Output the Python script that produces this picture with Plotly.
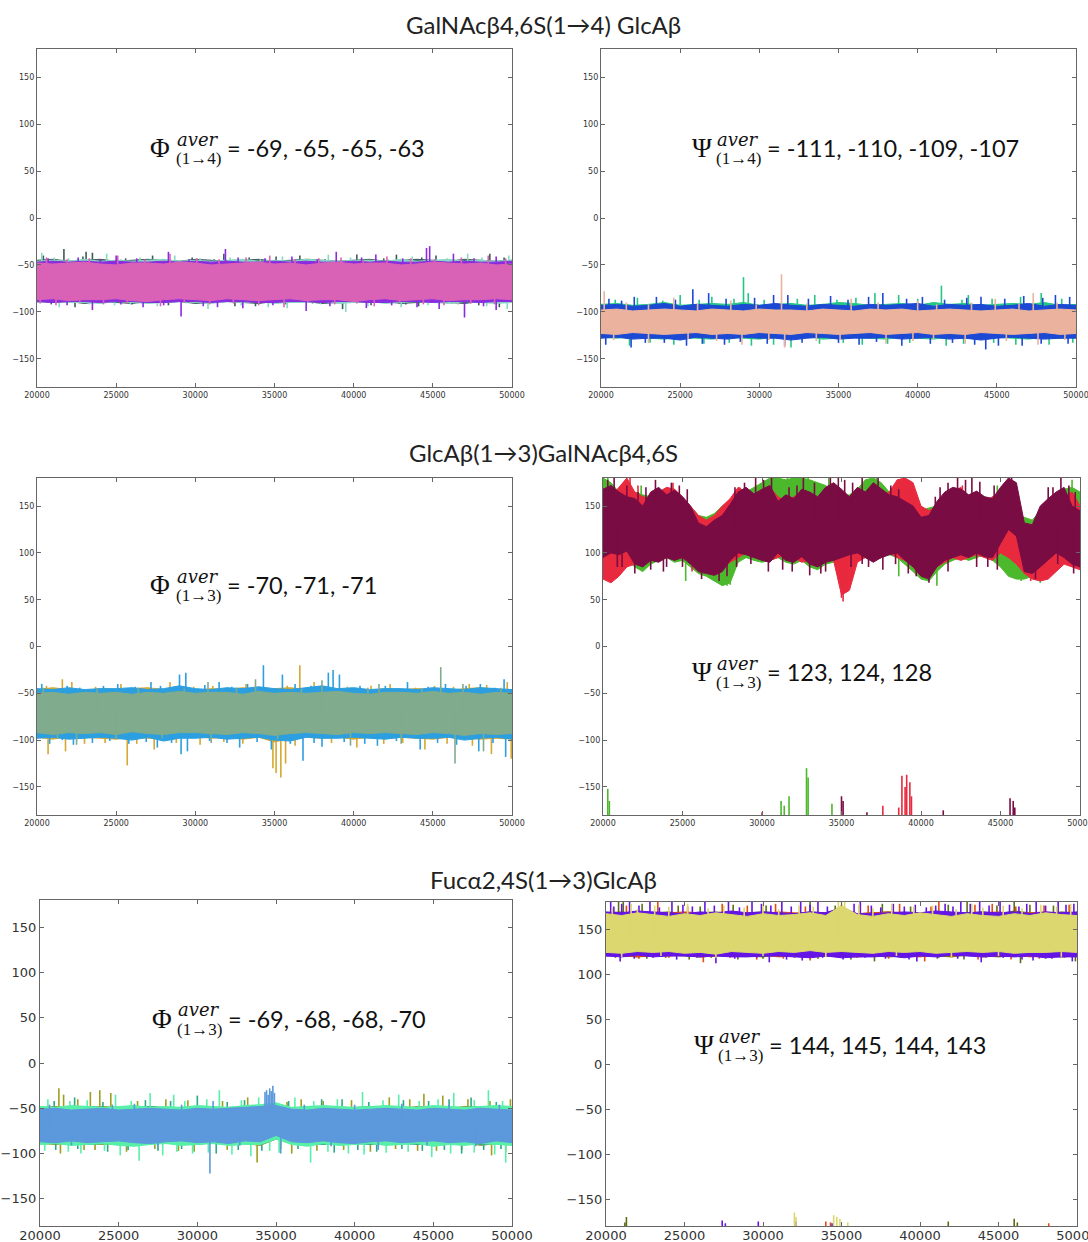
import plotly.graph_objects as go

W, H = 1088, 1242

# ---------------- data ----------------
T = [20000, 21000, 22000, 23000, 24000, 25000, 26000, 27000, 28000, 29000,
     30000, 31000, 32000, 33000, 34000, 35000, 36000, 37000, 38000, 39000,
     40000, 41000, 42000, 43000, 44000, 45000, 46000, 47000, 48000, 49000, 50000]
T4 = [20000, 20500, 21000, 21500, 22000, 22500, 23000, 23500, 24000, 24500,
      25000, 25500, 26000, 26500, 27000, 27500, 28000, 28500, 29000, 29500,
      30000, 30500, 31000, 31500, 32000, 32500, 33000, 33500, 34000, 34500,
      35000, 35500, 36000, 36500, 37000, 37500, 38000, 38500, 39000, 39500,
      40000, 40500, 41000, 41500, 42000, 42500, 43000, 43500, 44000, 44500,
      45000, 45500, 46000, 46500, 47000, 47500, 48000, 48500, 49000, 49500, 50000]
XTICKS = [20000, 25000, 30000, 35000, 40000, 45000, 50000]
YTICKS = [-150, -100, -50, 0, 50, 100, 150]

TITLES = ["GalNAcβ4,6S(1→4) GlcAβ", "GlcAβ(1→3)GalNAcβ4,6S", "Fucα2,4S(1→3)GlcAβ"]

P1_AVER = [-69, -65, -65, -63]
P2_AVER = [-111, -110, -109, -107]
P3_AVER = [-70, -71, -71]
P4_AVER = [123, 124, 128]
P5_AVER = [-69, -68, -68, -70]
P6_AVER = [144, 145, 144, 143]

# ---- Panel 1: Phi(1->4) ----
P1_DARK_HI = [-45,-44,-46,-45,-44,-46,-45,-44,-45,-46,-44,-45,-46,-45,-44,-46,-45,-44,-45,-46,-45,-44,-46,-45,-44,-45,-46,-44,-45,-46,-45]
P1_DARK_LO = [-89,-90,-89,-91,-89,-90,-91,-89,-90,-89,-91,-90,-89,-90,-91,-89,-90,-89,-91,-90,-89,-90,-89,-91,-90,-89,-90,-91,-89,-90,-89]
P1_TEAL_HI = [-46,-45,-46,-44,-46,-45,-46,-45,-44,-46,-45,-46,-45,-44,-46,-45,-46,-44,-45,-46,-45,-45,-46,-44,-46,-45,-44,-46,-45,-46,-45]
P1_TEAL_LO = [-90,-89,-90,-90,-91,-89,-90,-91,-90,-89,-90,-91,-89,-90,-89,-91,-90,-90,-89,-91,-90,-89,-91,-90,-89,-90,-91,-89,-90,-91,-90]
P1_PURP_HI = [-47,-46,-47,-46,-47,-46,-47,-47,-46,-47,-46,-47,-46,-47,-47,-46,-47,-46,-47,-47,-46,-47,-46,-47,-47,-46,-47,-46,-47,-47,-46]
P1_PURP_LO = [-89,-90,-89,-89,-90,-89,-89,-90,-90,-89,-89,-90,-89,-89,-90,-90,-89,-89,-90,-89,-89,-90,-90,-89,-89,-90,-89,-89,-90,-89,-89]
P1_PINK_HI = [-48,-49,-48,-47,-49,-50,-48,-48,-49,-47,-48,-50,-49,-48,-47,-49,-48,-50,-48,-47,-49,-48,-48,-50,-49,-47,-48,-49,-48,-50,-49]
P1_PINK_LO = [-87,-86,-88,-87,-87,-86,-88,-89,-87,-86,-87,-88,-86,-87,-88,-87,-86,-88,-87,-87,-89,-87,-86,-88,-87,-86,-88,-87,-87,-86,-87]
P1_DARK_UX = [20400,21700,22900,23100,23500,25600,27300,29800,31200,31800,33400,35100,36600,38200,40200,41900,42700,44300,45200,47100,48600,49500]
P1_DARK_UY = [-40,-33,-41,-36,-37,-43,-40,-42,-44,-38,-42,-41,-40,-44,-39,-43,-39,-42,-40,-44,-38,-42]
P1_DARK_DX = [20900,22400,24100,26000,28300,30200,32500,33800,35700,37400,39300,41100,43300,44100,46200,47900,49200]
P1_DARK_DY = [-92,-95,-91,-92,-93,-90,-94,-94,-92,-91,-97,-93,-92,-94,-91,-93,-95]
P1_TEAL_UX = [20300,21100,22000,24400,25300,26500,28700,30300,32200,34100,35500,37200,38400,39800,42200,43700,45900,47200,48100,49800]
P1_TEAL_UY = [-37,-42,-43,-38,-44,-42,-40,-43,-42,-44,-41,-43,-39,-42,-44,-41,-43,-38,-42,-40]
P1_TEAL_DX = [21400,23300,24900,25900,27600,29400,30800,32900,34600,35800,37900,39500,40900,43000,44700,46600,48400,49700]
P1_TEAL_DY = [-95,-92,-93,-92,-94,-91,-97,-93,-95,-96,-92,-100,-94,-95,-93,-92,-94,-97]
P1_PURP_UX = [20700,22600,24000,25000,26300,28300,29600,31900,32700,34400,36100,37700,38900,40500,41400,43100,44600,44800,46300,47600,49000]
P1_PURP_UY = [-43,-42,-44,-40,-43,-36,-44,-33,-42,-43,-41,-44,-36,-42,-39,-43,-32,-30,-38,-43,-41]
P1_PURP_DX = [21900,23500,25300,26700,28000,29100,30500,31400,33000,34900,37000,38500,40800,42400,44000,45400,47000,48200,49000]
P1_PURP_DY = [-93,-98,-92,-95,-93,-105,-94,-95,-96,-93,-99,-94,-96,-93,-95,-97,-106,-94,-98]
P1_PINK_UX = [20600,21900,23300,25100,26800,28400,30100,31500,33200,34700,36300,37800,39200,40600,42100,43600,45100,46800,48500,49600]
P1_PINK_UY = [-42,-44,-43,-40,-44,-38,-43,-44,-42,-40,-44,-43,-42,-45,-41,-43,-44,-42,-40,-43]
P1_PINK_DX = [20200,21200,22700,24200,25700,27800,29300,30900,32400,34000,35600,37100,38800,40200,41300,42900,44400,45700,47400,48900]
P1_PINK_DY = [-91,-93,-90,-92,-91,-94,-90,-92,-91,-93,-95,-90,-92,-91,-94,-90,-92,-93,-91,-92]

# ---- Panel 2: Psi(1->4) ----
P2_GREEN_HI = [-92,-91,-93,-92,-90,-93,-92,-91,-92,-90,-93,-92,-91,-93,-92,-90,-91,-93,-92,-91,-93,-90,-92,-91,-93,-92,-91,-92,-90,-93,-92]
P2_GREEN_LO = [-127,-128,-126,-128,-129,-127,-128,-129,-127,-128,-129,-127,-128,-126,-129,-128,-127,-128,-129,-127,-128,-129,-127,-128,-129,-127,-128,-129,-127,-128,-127]
P2_BLUE_HI = [-93,-92,-94,-93,-91,-94,-92,-93,-94,-92,-93,-91,-93,-94,-92,-93,-94,-92,-93,-92,-91,-94,-92,-93,-92,-94,-93,-91,-94,-92,-93]
P2_BLUE_LO = [-128,-127,-129,-128,-128,-130,-127,-128,-129,-127,-128,-128,-130,-128,-127,-129,-128,-128,-127,-129,-128,-127,-129,-128,-130,-128,-127,-128,-129,-128,-128]
P2_SALM_HI = [-98,-97,-99,-98,-97,-98,-99,-97,-98,-99,-97,-98,-98,-99,-97,-98,-99,-97,-98,-97,-99,-98,-97,-98,-99,-98,-97,-99,-98,-97,-98]
P2_SALM_LO = [-123,-124,-122,-123,-124,-123,-122,-124,-123,-124,-122,-123,-124,-122,-123,-124,-123,-122,-124,-123,-122,-124,-123,-124,-122,-123,-124,-123,-122,-124,-123]
P2_GREEN_UX = [20900,22300,23900,25000,26200,27000,28400,29000,29300,30300,32400,33500,34900,36100,37300,38800,40000,41500,42800,43200,44700,46500,47800,49100]
P2_GREEN_UY = [-87,-85,-88,-82,-87,-84,-86,-63,-80,-87,-86,-82,-87,-85,-80,-82,-86,-72,-87,-82,-86,-84,-80,-86]
P2_GREEN_DX = [21800,23100,24600,26500,28100,29500,30900,32000,33800,35300,36500,38100,39500,41800,42900,44800,46200,48300,49800]
P2_GREEN_DY = [-136,-133,-135,-134,-133,-136,-135,-138,-134,-133,-135,-134,-133,-136,-134,-133,-135,-135,-133]
P2_BLUE_UX = [20500,21300,22100,23500,24700,25800,26800,27900,29700,30900,31800,33100,34500,35600,36900,37800,39300,40300,41700,43100,44000,45500,46700,47900,48700,49600]
P2_BLUE_UY = [-86,-88,-84,-84,-87,-76,-80,-86,-85,-82,-82,-86,-83,-87,-84,-80,-86,-84,-87,-85,-84,-86,-83,-85,-82,-84]
P2_BLUE_DX = [20300,21900,22800,24000,25400,26400,27800,28800,30500,31600,32700,35000,36300,37400,39000,40800,42200,43600,44300,45100,46600,47800,49500]
P2_BLUE_DY = [-135,-138,-133,-133,-136,-134,-135,-132,-134,-136,-133,-133,-135,-132,-136,-134,-133,-135,-140,-136,-136,-134,-134]
P2_SALM_UX = [20200,21600,23000,24600,26100,28200,29800,31400,33000,35800,37500,40000,41200,43400,44900,46400,47300,48800]
P2_SALM_UY = [-78,-90,-92,-85,-91,-88,-92,-60,-91,-86,-90,-88,-92,-90,-86,-91,-80,-90]
P2_SALM_DX = [20800,23000,25500,27300,28900,30600,31600,33600,35100,38000,39700,41000,43000,45600,47600,49300]
P2_SALM_DY = [-130,-133,-129,-131,-135,-130,-138,-131,-130,-134,-131,-129,-134,-131,-135,-130]

# ---- Panel 3: Phi(1->3) ----
P3_GOLD_HI = [-46,-44,-46,-47,-45,-46,-45,-44,-46,-45,-47,-45,-46,-44,-46,-45,-44,-46,-47,-45,-46,-47,-45,-46,-45,-46,-47,-45,-44,-46,-46]
P3_GOLD_LO = [-97,-99,-96,-97,-98,-99,-97,-98,-98,-97,-96,-98,-97,-99,-97,-102,-98,-97,-98,-97,-99,-97,-98,-97,-98,-99,-97,-98,-99,-98,-99]
P3_BLUE_HI = [-45,-46,-44,-46,-45,-45,-44,-46,-45,-42,-45,-46,-44,-45,-43,-45,-46,-44,-42,-45,-44,-46,-45,-45,-46,-44,-45,-46,-44,-45,-46]
P3_BLUE_LO = [-98,-97,-99,-98,-97,-98,-100,-97,-101,-98,-98,-97,-99,-98,-97,-100,-101,-97,-98,-98,-97,-98,-99,-97,-98,-98,-97,-100,-98,-97,-99]
P3_SAGE_HI = [-50,-49,-51,-49,-50,-49,-51,-49,-50,-48,-50,-49,-49,-51,-48,-50,-49,-50,-49,-48,-50,-51,-49,-49,-50,-48,-50,-49,-51,-49,-50]
P3_SAGE_LO = [-92,-94,-92,-93,-92,-94,-91,-93,-94,-92,-92,-93,-94,-92,-93,-95,-93,-92,-93,-94,-92,-93,-92,-93,-94,-92,-93,-95,-93,-94,-93]
P3_GOLD_UX = [20600,21600,22200,23700,25300,26600,28400,29900,31100,33200,34000,35800,36600,37500,39600,41100,42300,43900,45100,46300,47300,48400,49700]
P3_GOLD_UY = [-42,-35,-38,-43,-40,-44,-38,-43,-42,-40,-44,-42,-20,-38,-43,-42,-40,-44,-42,-43,-40,-41,-38]
P3_GOLD_DX = [20700,21800,23000,24300,25700,26300,27400,28800,30300,31800,33000,34900,35100,35400,35700,36300,38600,40200,41900,43100,44500,45900,47500,48700,49950]
P3_GOLD_DY = [-115,-112,-104,-103,-127,-104,-110,-103,-105,-102,-104,-130,-135,-140,-125,-106,-103,-108,-104,-103,-110,-104,-106,-115,-120]
P3_BLUE_UX = [20300,20500,21900,22700,24200,25100,26200,27200,27800,29000,29400,30600,31500,32300,33300,34300,35500,36300,37300,38400,38700,39100,40400,42000,43400,44700,45800,47100,48000,48900,49500]
P3_BLUE_UY = [-40,-45,-42,-44,-42,-40,-43,-38,-42,-30,-28,-41,-38,-43,-40,-20,-30,-40,-42,-28,-25,-30,-42,-42,-38,-43,-40,-42,-40,-44,-35]
P3_BLUE_DX = [20800,21600,22300,23500,24600,25800,26900,27600,28500,29100,29500,30900,32000,32800,33900,34800,36000,36800,37500,38000,39400,40700,41500,42700,44200,45300,46500,47900,48800,49600]
P3_BLUE_DY = [-104,-100,-105,-103,-101,-104,-102,-108,-103,-115,-112,-101,-103,-108,-102,-110,-104,-122,-103,-107,-102,-104,-106,-101,-110,-103,-105,-112,-103,-118]
P3_SAGE_SX = [20400,21300,22500,23800,25000,26400,27900,29300,30800,31000,32600,33800,35200,36700,38000,39800,40900,41600,43000,44300,45500,46400,46900,48200,49300]
P3_SAGE_SY = [-44,-98,-105,-45,-99,-44,-98,-45,-38,-103,-44,-35,-99,-45,-36,-106,-44,-40,-104,-45,-22,-125,-40,-112,-44]

# ---- Panel 4: Psi(1->3), sampled every 500 ----
P4_GREEN_HI = [180,175,165,168,165,162,160,158,165,160,158,150,140,138,142,150,155,160,165,170,175,180,180,178,180,180,178,175,172,165,160,162,168,178,180,175,165,160,158,150,145,148,150,160,165,160,158,162,160,155,150,145,140,138,135,145,150,160,168,170,165]
P4_GREEN_LO = [82,80,88,92,85,80,88,92,95,90,92,85,78,75,70,65,68,90,95,92,90,92,95,90,88,92,85,82,88,90,92,95,98,95,92,95,98,95,88,80,72,70,80,88,92,95,92,95,98,92,85,75,72,72,75,80,85,90,92,88,85]
P4_RED_HI = [150,160,170,180,165,160,158,165,170,168,160,150,140,135,140,150,158,170,165,160,165,170,160,155,160,165,160,158,165,160,150,140,160,165,168,160,165,178,180,175,150,145,150,160,165,170,160,158,155,160,165,155,145,130,120,125,130,150,160,165,150]
P4_RED_LO = [72,68,75,85,88,90,95,98,95,100,95,92,88,85,82,85,90,95,100,98,95,92,95,98,95,90,92,88,95,92,55,60,90,95,92,95,100,95,92,88,85,80,85,90,95,92,95,98,95,92,100,95,88,78,72,70,72,80,88,85,82]
P4_MAR_HI = [168,172,165,160,158,150,165,170,162,167,160,150,132,128,135,140,152,165,170,163,168,172,155,162,158,168,165,160,170,175,168,160,170,165,175,168,162,160,155,150,138,140,155,165,170,168,162,166,160,158,170,180,175,132,130,150,158,165,170,150,145]
P4_MAR_LO = [95,100,98,102,88,85,92,90,95,92,95,88,80,78,76,80,92,100,98,95,92,90,100,92,90,96,88,85,90,92,95,98,100,95,90,95,98,100,92,85,75,72,85,92,95,98,95,100,96,95,110,125,118,80,78,85,92,100,95,88,85]
P4_GREEN_SX = [20300,21600,22400,25200,27800,28000,30800,31600,32900,33100,34200,37200,38600,41000,44800,46300,47500,49500]
P4_GREEN_SY = [180,175,172,70,65,66,180,180,180,178,180,180,75,65,172,70,68,178]
P4_RED_SX = [21700,22200,24400,25600,28600,35000,35100,35300,38900,39200,42600,46900,47700]
P4_RED_SY = [180,172,175,80,170,52,48,58,180,178,172,70,72]
P4_MAR_SX = [20300,21200,22700,23800,24800,26200,27300,28900,30100,31300,32200,33700,35200,36700,38100,39700,40500,41200,42800,43200,44200,45700,47200,48300,49300,
             20700,21500,22200,23300,24300,25300,28300,29600,30600,31700,32600,33300,34300,34800,35700,36300,37300,38600,40900,41700,42300,43700,44600,48000,48800,49700,
             20900,22000,23000,24000,25000,27800,28400,29300,30400,31900,33000,34000,35600,36300,37600,38400,39200,41700,43500,44800,48600,49600]
P4_MAR_SY = [178,85,170,80,172,72,70,175,178,82,172,78,178,85,172,75,68,170,178,180,85,180,72,170,172,
             180,172,165,178,175,168,170,180,180,170,180,175,180,180,175,180,180,168,160,175,180,176,172,170,180,165,
             85,78,82,85,85,75,85,88,80,80,76,80,85,88,82,88,78,80,85,82,88,78]
P4_GREEN_WX = [20300,20400,31200,31400,31700,32800,32900,34400]
P4_GREEN_WY = [-152,-165,-165,-170,-160,-130,-140,-168]
P4_RED_WX = [30000,37600,38600,38800,39000,39100,39300,39400]
P4_RED_WY = [-177,-170,-172,-138,-150,-137,-145,-160]
P4_MAR_WX = [35000,35100,36600,41400,45600,45800,45900]
P4_MAR_WY = [-160,-165,-177,-175,-162,-165,-172]

# ---- Panel 5: Phi(1->3) ----
P5_OLIVE_HI = [-49,-48,-50,-49,-48,-49,-50,-48,-49,-50,-48,-49,-50,-48,-47,-45,-50,-49,-48,-49,-50,-48,-49,-50,-48,-49,-50,-48,-49,-50,-49]
P5_OLIVE_LO = [-89,-90,-88,-89,-90,-89,-91,-89,-88,-90,-89,-88,-90,-89,-91,-84,-88,-90,-89,-90,-88,-89,-90,-89,-88,-90,-89,-88,-91,-89,-90]
P5_TEAL_HI = [-50,-49,-50,-48,-49,-50,-49,-48,-50,-49,-48,-50,-49,-48,-47,-45,-50,-48,-49,-50,-49,-48,-49,-50,-49,-48,-50,-49,-48,-50,-49]
P5_TEAL_LO = [-88,-89,-88,-90,-89,-88,-90,-89,-88,-89,-90,-88,-89,-88,-90,-84,-88,-89,-90,-88,-89,-90,-88,-89,-90,-88,-89,-88,-90,-89,-88]
P5_MINT_HI = [-48,-49,-47,-48,-49,-48,-47,-49,-48,-49,-47,-48,-49,-47,-46,-44,-49,-48,-47,-48,-49,-48,-47,-48,-49,-47,-48,-49,-48,-47,-48]
P5_MINT_LO = [-90,-89,-91,-90,-89,-91,-92,-90,-89,-91,-90,-89,-91,-90,-90,-84,-90,-92,-89,-91,-90,-89,-91,-90,-89,-92,-90,-91,-89,-90,-91]
P5_BLUE_HI = [-51,-50,-52,-51,-50,-52,-51,-50,-51,-52,-50,-51,-50,-49,-48,-47,-51,-52,-50,-51,-52,-51,-50,-51,-52,-50,-51,-52,-50,-51,-52]
P5_BLUE_LO = [-87,-88,-86,-88,-87,-86,-88,-89,-87,-86,-88,-87,-89,-86,-87,-80,-87,-88,-86,-88,-89,-87,-86,-88,-87,-86,-88,-87,-89,-86,-88]
P5_OLIVE_UX = [21200,21500,22400,23200,23800,24500,26200,28000,29400,31600,33200,35700,36600,38000,39800,42200,43500,44400,45600,47200,48600,49900]
P5_OLIVE_UY = [-28,-35,-40,-32,-30,-33,-42,-40,-41,-42,-38,-43,-40,-42,-41,-38,-40,-34,-36,-40,-42,-40]
P5_OLIVE_DX = [21300,22800,23500,25500,27300,28800,29800,31900,33800,35300,36000,37600,39300,41000,42600,44000,45200,46800,48700,49600]
P5_OLIVE_DY = [-100,-96,-96,-98,-95,-97,-98,-96,-110,-95,-100,-97,-96,-98,-95,-97,-97,-96,-102,-98]
P5_TEAL_UX = [20900,22200,24000,26700,28300,30000,31900,33000,35800,37900,39200,40900,43100,44700,46000,47400,49000]
P5_TEAL_UY = [-42,-38,-43,-41,-42,-36,-43,-41,-42,-40,-40,-43,-41,-42,-40,-38,-43]
P5_TEAL_DX = [21000,22400,24300,25600,27500,29000,31200,32600,34100,36400,38700,40200,41400,43000,44300,45700,46800,48200,49300]
P5_TEAL_DY = [-96,-95,-98,-96,-97,-95,-100,-96,-97,-95,-99,-96,-98,-95,-97,-96,-100,-96,-95]
P5_MINT_UX = [20500,21900,23000,24800,25800,27000,28500,29200,30600,31400,32800,33900,36200,37400,38900,40500,41800,42800,44100,45300,46300,47600,48500,49400]
P5_MINT_UY = [-40,-42,-41,-35,-42,-33,-35,-42,-40,-30,-41,-38,-38,-42,-40,-32,-41,-35,-42,-40,-33,-41,-30,-42]
P5_MINT_DX = [20300,21800,22600,24100,25100,26300,27800,28700,29700,30700,32200,33400,34600,35200,37200,38300,39600,40600,42000,43400,44900,46100,47600,48900,49600]
P5_MINT_DY = [-97,-98,-100,-97,-102,-108,-102,-98,-100,-99,-101,-103,-97,-99,-110,-98,-100,-101,-99,-98,-104,-100,-99,-101,-110]
P5_BLUE_SX = [20600,22000,24600,26000,27500,29000,30800,31000,32700,34300,34400,34500,34600,34700,34800,34900,35300,36800,38500,40000,41500,43000,44600,46000,47700,49200]
P5_BLUE_SY = [-46,-91,-46,-45,-92,-46,-122,-42,-91,-32,-30,-35,-28,-31,-25,-33,-100,-46,-92,-46,-96,-45,-91,-46,-92,-46]

# ---- Panel 6: Psi(1->3) ----
P6_OLIVE_HI = [168,169,167,168,169,167,168,169,167,168,169,168,167,169,168,172,167,168,169,167,168,169,167,168,169,167,170,168,167,169,168]
P6_OLIVE_LO = [120,121,119,120,121,120,119,120,121,120,119,121,120,119,120,119,121,120,119,120,121,120,119,121,120,119,120,121,120,119,120]
P6_RED_HI = [167,168,169,167,168,169,168,167,169,168,167,169,168,167,168,172,167,168,169,168,167,169,168,167,168,169,167,168,169,167,168]
P6_RED_LO = [121,120,119,121,120,121,119,120,121,120,121,119,120,121,120,121,119,120,121,120,119,121,120,121,119,120,121,119,120,121,120]
P6_VIOL_HI = [169,168,170,169,168,167,169,168,170,168,169,168,167,169,168,174,167,167,168,169,168,170,169,168,169,168,169,167,169,168,169]
P6_VIOL_LO = [120,119,121,119,120,120,119,120,119,119,120,120,119,118,120,118,119,119,120,118,120,119,121,120,119,120,119,120,118,119,119]
P6_KHAKI_HI = [167,165,168,166,164,167,165,168,166,164,167,165,166,168,165,176,166,164,167,165,168,166,164,167,165,164,167,165,168,166,165]
P6_KHAKI_LO = [124,123,125,124,125,123,124,122,125,124,123,125,124,126,124,125,124,123,125,124,125,123,124,125,124,125,123,124,124,125,124]
P6_OLIVE_UX = [20800,21100,22300,24600,26000,28100,30200,33000,34600,37600,39400,41800,43000,44900,46000,47000,48500]
P6_OLIVE_UY = [180,180,178,176,175,177,176,180,176,178,175,177,180,176,180,177,176]
P6_OLIVE_DX = [20600,22600,23800,25300,26700,28400,30000,32000,33500,35600,37100,38800,41100,42800,44200,46400,48000,49900]
P6_OLIVE_DY = [118,117,118,116,118,116,117,118,117,116,114,118,117,116,118,112,117,114]
P6_RED_UX = [21300,23300,25200,27400,29000,30800,32700,35000,36700,38700,40700,41200,43500,44600,46100,47900,49500]
P6_RED_UY = [176,180,175,178,176,178,175,177,176,178,175,180,177,178,175,176,177]
P6_RED_DX = [22100,24000,26200,27900,29600,31300,33000,36000,38000,40300,42000,43700,45800,47600,49200]
P6_RED_DY = [117,118,113,118,116,117,115,118,117,114,118,116,116,117,118]
P6_VIOL_UX = [20300,20500,21000,21500,22100,22800,23400,24200,24900,25500,26300,26900,27800,28500,29300,29900,30500,31200,31800,32400,33000,33500,34100,35800,36200,36900,37500,38300,39000,39700,40400,41000,41600,42100,42600,43200,43800,44400,45100,45700,46300,46800,47400,48000,48800,49300,49800]
P6_VIOL_UY = [180,175,178,180,176,180,174,180,177,175,180,176,180,174,180,178,176,180,175,180,177,180,175,178,180,176,174,178,175,177,174,176,178,175,180,178,180,176,180,177,175,178,180,176,180,177,178]
P6_VIOL_DX = [20900,21800,23000,24500,25800,27000,28200,29600,30400,31500,32500,33800,34900,35100,36500,37800,39300,39800,41200,42400,43900,45300,46500,47200,48400,49700]
P6_VIOL_DY = [114,117,118,116,118,112,117,118,113,116,115,118,120,116,118,117,116,114,118,117,113,118,116,115,117,114]
P6_KHAKI_UX = [20400,21600,22000,23100,24000,25200,26500,27500,28800,30000,31000,32300,33200,34800,35000,35200,36100,37000,38200,39600,40800,42300,43300,44000,45300,46500,47700,48700,49600]
P6_KHAKI_UY = [174,178,172,176,175,178,173,176,174,178,172,176,175,180,180,180,177,173,178,175,176,172,178,174,176,173,177,175,178]
P6_KHAKI_DX = [21000,23500,27000,30000,34000,38500,42000,45000,49000]
P6_KHAKI_DY = [119,120,118,120,119,120,118,120,119]
P6_OLIVE_WX = [21200,21300,41800,46000,46200]
P6_OLIVE_WY = [-176,-170,-175,-172,-176]
P6_RED_WX = [34000,34300,48200]
P6_RED_WY = [-175,-176,-177]
P6_VIOL_WX = [27400,27600,29700,32100,34400]
P6_VIOL_WY = [-174,-177,-175,-175,-177]
P6_KHAKI_WX = [32000,32100,34500,34700,34900,35400]
P6_KHAKI_WY = [-165,-170,-168,-170,-172,-176]

# ---------------- panel definitions ----------------
E = []
PANELS = [
    dict(sym="Φ", sub="(1→4)", aver=P1_AVER, grid=T, series=[
        (P1_DARK_HI, P1_DARK_LO, P1_DARK_UX + P1_DARK_DX, P1_DARK_UY + P1_DARK_DY, E, E, "#3c5c5a", P1_AVER[0]),
        (P1_TEAL_HI, P1_TEAL_LO, P1_TEAL_UX + P1_TEAL_DX, P1_TEAL_UY + P1_TEAL_DY, E, E, "#88d8c4", P1_AVER[1]),
        (P1_PURP_HI, P1_PURP_LO, P1_PURP_UX + P1_PURP_DX, P1_PURP_UY + P1_PURP_DY, E, E, "#8a2be0", P1_AVER[2]),
        (P1_PINK_HI, P1_PINK_LO, P1_PINK_UX + P1_PINK_DX, P1_PINK_UY + P1_PINK_DY, E, E, "#da62b6", P1_AVER[3])]),
    dict(sym="Ψ", sub="(1→4)", aver=P2_AVER, grid=T, series=[
        (P2_GREEN_HI, P2_GREEN_LO, P2_GREEN_UX + P2_GREEN_DX, P2_GREEN_UY + P2_GREEN_DY, E, E, "#25c684", P2_AVER[0]),
        (P2_BLUE_HI, P2_BLUE_LO, P2_BLUE_UX + P2_BLUE_DX, P2_BLUE_UY + P2_BLUE_DY, E, E, "#1c49d3", P2_AVER[1]),
        (P2_SALM_HI, P2_SALM_LO, P2_SALM_UX + P2_SALM_DX, P2_SALM_UY + P2_SALM_DY, E, E, "#ebb29d", P2_AVER[2])]),
    dict(sym="Φ", sub="(1→3)", aver=P3_AVER, grid=T, series=[
        (P3_GOLD_HI, P3_GOLD_LO, P3_GOLD_UX + P3_GOLD_DX, P3_GOLD_UY + P3_GOLD_DY, E, E, "#d6a832", P3_AVER[0]),
        (P3_BLUE_HI, P3_BLUE_LO, P3_BLUE_UX + P3_BLUE_DX, P3_BLUE_UY + P3_BLUE_DY, E, E, "#2b9fe0", P3_AVER[1]),
        (P3_SAGE_HI, P3_SAGE_LO, P3_SAGE_SX, P3_SAGE_SY, E, E, "#80ab8c", P3_AVER[2])]),
    dict(sym="Ψ", sub="(1→3)", aver=P4_AVER, grid=T4, series=[
        (P4_GREEN_HI, P4_GREEN_LO, P4_GREEN_SX, P4_GREEN_SY, P4_GREEN_WX, P4_GREEN_WY, "#4cb82c", P4_AVER[1]),
        (P4_RED_HI, P4_RED_LO, P4_RED_SX, P4_RED_SY, P4_RED_WX, P4_RED_WY, "#e8293e", P4_AVER[0]),
        (P4_MAR_HI, P4_MAR_LO, P4_MAR_SX, P4_MAR_SY, P4_MAR_WX, P4_MAR_WY, "#7a0c44", P4_AVER[2])]),
    dict(sym="Φ", sub="(1→3)", aver=P5_AVER, grid=T, series=[
        (P5_OLIVE_HI, P5_OLIVE_LO, P5_OLIVE_UX + P5_OLIVE_DX, P5_OLIVE_UY + P5_OLIVE_DY, E, E, "#a09c1e", P5_AVER[0]),
        (P5_TEAL_HI, P5_TEAL_LO, P5_TEAL_UX + P5_TEAL_DX, P5_TEAL_UY + P5_TEAL_DY, E, E, "#2aa88a", P5_AVER[1]),
        (P5_MINT_HI, P5_MINT_LO, P5_MINT_UX + P5_MINT_DX, P5_MINT_UY + P5_MINT_DY, E, E, "#58f0a8", P5_AVER[2]),
        (P5_BLUE_HI, P5_BLUE_LO, P5_BLUE_SX, P5_BLUE_SY, E, E, "#5c98dc", P5_AVER[3])]),
    dict(sym="Ψ", sub="(1→3)", aver=P6_AVER, grid=T, series=[
        (P6_OLIVE_HI, P6_OLIVE_LO, P6_OLIVE_UX + P6_OLIVE_DX, P6_OLIVE_UY + P6_OLIVE_DY, P6_OLIVE_WX, P6_OLIVE_WY, "#5c6e12", P6_AVER[0]),
        (P6_RED_HI, P6_RED_LO, P6_RED_UX + P6_RED_DX, P6_RED_UY + P6_RED_DY, P6_RED_WX, P6_RED_WY, "#e44a12", P6_AVER[1]),
        (P6_VIOL_HI, P6_VIOL_LO, P6_VIOL_UX + P6_VIOL_DX, P6_VIOL_UY + P6_VIOL_DY, P6_VIOL_WX, P6_VIOL_WY, "#6414e4", P6_AVER[2]),
        (P6_KHAKI_HI, P6_KHAKI_LO, P6_KHAKI_UX + P6_KHAKI_DX, P6_KHAKI_UY + P6_KHAKI_DY, P6_KHAKI_WX, P6_KHAKI_WY, "#dcd76e", P6_AVER[3])]),
]

# ---------------- layout geometry (pixels) ----------------
FRAMES = [(37, 512, 49, 387), (601, 1076, 49, 387),
          (37, 512, 478, 815), (603, 1080, 478, 815),
          (40, 512, 900, 1226), (606, 1077, 902, 1226)]
TITLE_Y = [25, 452, 879]
# (symbol x, aver x, sub x, equation x, centre y)
LABEL_POS = [(148, 175, 174, 225, 148), (690, 715, 714, 765, 148),
             (148, 175, 174, 225, 585), (690, 715, 714, 765, 672),
             (150, 176, 175, 226, 1019), (692, 717, 716, 767, 1045)]


def px(xp):
    return xp / W


def py(yp):
    return 1 - yp / H


fig = go.Figure()

for i, panel in enumerate(PANELS):
    n = i + 1
    xr = "x" if n == 1 else f"x{n}"
    yr = "y" if n == 1 else f"y{n}"
    grid = panel["grid"]
    for hi, lo, sx, sy, wx, wy, color, base in panel["series"]:
        fig.add_trace(go.Scatter(
            x=grid + grid[::-1], y=hi + lo[::-1], mode="lines", fill="toself",
            fillcolor=color, line=dict(color=color, width=1),
            xaxis=xr, yaxis=yr, showlegend=False, hoverinfo="skip"))
        xs, ys = [], []
        for a, b in zip(sx, sy):
            xs += [a, a, None]
            ys += [base, b, None]
        for a, b in zip(wx, wy):
            xs += [a, a, None]
            ys += [-180, b, None]
        if xs:
            fig.add_trace(go.Scatter(
                x=xs, y=ys, mode="lines", line=dict(color=color, width=1.6),
                xaxis=xr, yaxis=yr, showlegend=False, hoverinfo="skip"))

layout = dict(width=W, height=H, margin=dict(l=0, r=0, t=0, b=0, pad=0, autoexpand=False),
              paper_bgcolor="white", plot_bgcolor="white", showlegend=False)

for i, (l, r, t, b) in enumerate(FRAMES):
    n = i + 1
    big = i >= 4
    fs = 13 if big else 8
    tick_font = dict(family="DejaVu Sans", size=fs, color="#333333")
    common = dict(ticks="inside", ticklen=4, tickwidth=1, tickcolor="#666666",
                  showline=True, linecolor="#666666", linewidth=1.3, mirror="ticks",
                  showgrid=False, zeroline=False, tickfont=tick_font, automargin=False)
    layout["xaxis" if n == 1 else f"xaxis{n}"] = dict(
        domain=[px(l), px(r)], range=[20000, 50000], tickvals=XTICKS,
        tickformat="d", ticklabeloverflow="allow",
        ticklabelstandoff=-3 if big else 0,
        anchor="y" if n == 1 else f"y{n}", **common)
    layout["yaxis" if n == 1 else f"yaxis{n}"] = dict(
        domain=[py(b), py(t)], range=[-180, 180], tickvals=YTICKS,
        anchor="x" if n == 1 else f"x{n}", **common)

fig.update_layout(**layout)

ann = []
for k, title in enumerate(TITLES):
    ann.append(dict(text=title, x=px(543), y=py(TITLE_Y[k]), xref="paper", yref="paper",
                    xanchor="center", yanchor="middle", showarrow=False,
                    font=dict(family="Lato", size=24, color="#222222")))

for i, panel in enumerate(PANELS):
    sxp, axp, subp, eqp, cy = LABEL_POS[i]
    eq = "= " + ", ".join(str(v) for v in panel["aver"])
    ann.append(dict(text=panel["sym"], x=px(sxp), y=py(cy), xref="paper", yref="paper",
                    xanchor="left", yanchor="middle", showarrow=False,
                    font=dict(family="Liberation Serif", size=27, color="#111111")))
    ann.append(dict(text="<i>aver</i>", x=px(axp), y=py(cy - 9), xref="paper", yref="paper",
                    xanchor="left", yanchor="middle", showarrow=False,
                    font=dict(family="DejaVu Serif", size=18, color="#111111")))
    ann.append(dict(text=panel["sub"], x=px(subp), y=py(cy + 10), xref="paper", yref="paper",
                    xanchor="left", yanchor="middle", showarrow=False,
                    font=dict(family="Liberation Serif", size=17, color="#111111")))
    ann.append(dict(text=eq, x=px(eqp), y=py(cy), xref="paper", yref="paper",
                    xanchor="left", yanchor="middle", showarrow=False,
                    font=dict(family="Lato", size=23.5, color="#111111")))

fig.update_layout(annotations=ann)
fig.write_html("out.html", config={"displayModeBar": False},
               post_script="document.body.style.margin='0px';document.body.style.overflow='hidden';")
